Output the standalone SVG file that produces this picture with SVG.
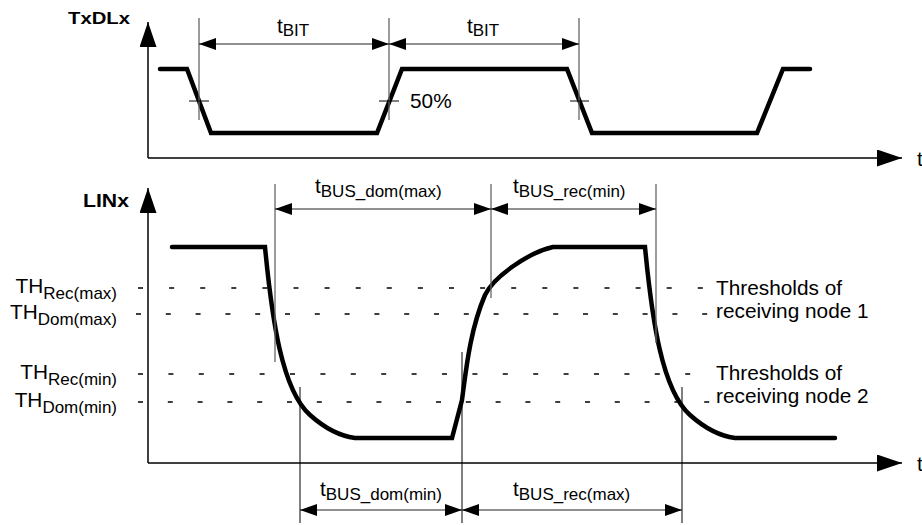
<svg xmlns="http://www.w3.org/2000/svg" width="922" height="525" viewBox="0 0 922 525">
<defs>
<style>
text{font-family:"Liberation Sans",Arial,sans-serif;fill:#000}
.lbl{font-size:20.8px}
.sub{font-size:17px}
.bold{font-weight:bold}
.axis{stroke:#000;stroke-width:1.5;fill:none}
.sig{stroke:#000;stroke-width:4.5;fill:none;stroke-linecap:round;stroke-linejoin:miter}
.dim{stroke:#222;stroke-width:1.1;fill:none}
.ext{stroke:#666;stroke-width:1.3;fill:none}
.extb{stroke:#000;stroke-width:1;fill:none}
.tick{stroke:#000;stroke-width:1;fill:none}
.th{stroke:#000;stroke-width:1.3;fill:none}
</style>
<marker id="ax" markerUnits="userSpaceOnUse" markerWidth="26" markerHeight="18" refX="25" refY="8.5" orient="auto" viewBox="0 0 26 18">
<path d="M0,0 L25,8.5 L0,17 z" fill="#000"/>
</marker>
<marker id="ar" markerUnits="userSpaceOnUse" markerWidth="18" markerHeight="13" refX="17" refY="6" orient="auto-start-reverse" viewBox="0 0 18 13">
<path d="M0,0 L17,6 L0,12 z" fill="#000"/>
</marker>
</defs>

<g id="axes">
<line class="axis" x1="148" y1="158" x2="148" y2="22" marker-end="url(#ax)"/>
<line class="axis" x1="148" y1="158" x2="902" y2="158" marker-end="url(#ax)"/>
<line class="axis" x1="148" y1="463" x2="148" y2="188" marker-end="url(#ax)"/>
<line class="axis" x1="148" y1="463" x2="902" y2="463" marker-end="url(#ax)"/>
<text class="lbl" x="917" y="166">t</text>
<text class="lbl" x="917" y="471">t</text>
<text class="bold" x="68" y="24" font-size="16.5" textLength="62" lengthAdjust="spacingAndGlyphs">TxDLx</text>
<text class="bold" x="83" y="207" font-size="17.5" textLength="46" lengthAdjust="spacingAndGlyphs">LINx</text>
</g>

<g id="thresholds">
<line class="th" x1="138" y1="288" x2="703" y2="288" stroke-dasharray="5 26.1"/>
<line class="th" x1="136" y1="314" x2="707.2" y2="314" stroke-dasharray="5 24.8"/>
<line class="th" x1="138" y1="374" x2="690.2" y2="374" stroke-dasharray="5 25.4"/>
<line class="th" x1="138" y1="402" x2="709.2" y2="402" stroke-dasharray="5 24.8"/>
<text class="lbl" x="117" y="292.5" text-anchor="end">TH<tspan class="sub" dy="6">Rec(max)</tspan></text>
<text class="lbl" x="117" y="318.5" text-anchor="end">TH<tspan class="sub" dy="6">Dom(max)</tspan></text>
<text class="lbl" x="117" y="378.5" text-anchor="end">TH<tspan class="sub" dy="6">Rec(min)</tspan></text>
<text class="lbl" x="117" y="406.5" text-anchor="end">TH<tspan class="sub" dy="6">Dom(min)</tspan></text>
<text class="lbl" x="716" y="295">Thresholds of</text>
<text class="lbl" x="716" y="318">receiving node 1</text>
<text class="lbl" x="716" y="380">Thresholds of</text>
<text class="lbl" x="716" y="403">receiving node 2</text>
</g>

<g id="signals">
<path id="txd" class="sig" d="M160,69 H187 L211,133 H377 L402,69 H567 L592,133 H757 L783,69 H810"/>
<path id="lin" class="sig" d="M172,247 H265 C272,320 282,390 310,415 C324,427.5 340,436 355,438 H452 L462,400 C466,370 470,330 485,295 C494,276 530,252 553,247 H645 C652,320 662,390 690,415 C704,427.5 720,436 735,438 H835"/>
</g>

<g id="connectors">
<line class="ext" x1="199" y1="18" x2="199" y2="120"/>
<line class="ext" x1="389" y1="18" x2="389" y2="120"/>
<line class="ext" x1="579" y1="18" x2="579" y2="120"/>
<line class="tick" x1="189" y1="101" x2="209" y2="101"/>
<line class="tick" x1="379" y1="101" x2="399" y2="101"/>
<line class="tick" x1="570" y1="101" x2="589" y2="101"/>
<line class="dim" x1="199" y1="44" x2="389" y2="44" marker-start="url(#ar)" marker-end="url(#ar)"/>
<line class="dim" x1="389" y1="44" x2="579" y2="44" marker-start="url(#ar)" marker-end="url(#ar)"/>

<line class="ext" x1="275" y1="184" x2="275" y2="362"/>
<line class="ext" x1="491" y1="184" x2="491" y2="298"/>
<line class="ext" x1="656" y1="184" x2="656" y2="343"/>
<line class="dim" x1="275" y1="209" x2="491" y2="209" marker-start="url(#ar)" marker-end="url(#ar)"/>
<line class="dim" x1="491" y1="209" x2="656" y2="209" marker-start="url(#ar)" marker-end="url(#ar)"/>

<line class="extb" x1="300" y1="387" x2="300" y2="523"/>
<line class="extb" x1="462" y1="352" x2="462" y2="523"/>
<line class="extb" x1="682" y1="387" x2="682" y2="523"/>
<line class="dim" x1="300" y1="510" x2="462" y2="510" marker-start="url(#ar)" marker-end="url(#ar)"/>
<line class="dim" x1="462" y1="510" x2="682" y2="510" marker-start="url(#ar)" marker-end="url(#ar)"/>
</g>

<g id="labels">
<text class="lbl" x="277" y="33">t<tspan class="sub" dy="3">BIT</tspan></text>
<text class="lbl" x="467" y="33">t<tspan class="sub" dy="3">BIT</tspan></text>
<text class="lbl" x="410" y="108">50%</text>
<text class="lbl" x="315" y="193">t<tspan class="sub" dy="4">BUS_dom(max)</tspan></text>
<text class="lbl" x="513" y="193">t<tspan class="sub" dy="4">BUS_rec(min)</tspan></text>
<text class="lbl" x="320" y="496">t<tspan class="sub" dy="4">BUS_dom(min)</tspan></text>
<text class="lbl" x="513" y="496">t<tspan class="sub" dy="4">BUS_rec(max)</tspan></text>
</g>
</svg>
